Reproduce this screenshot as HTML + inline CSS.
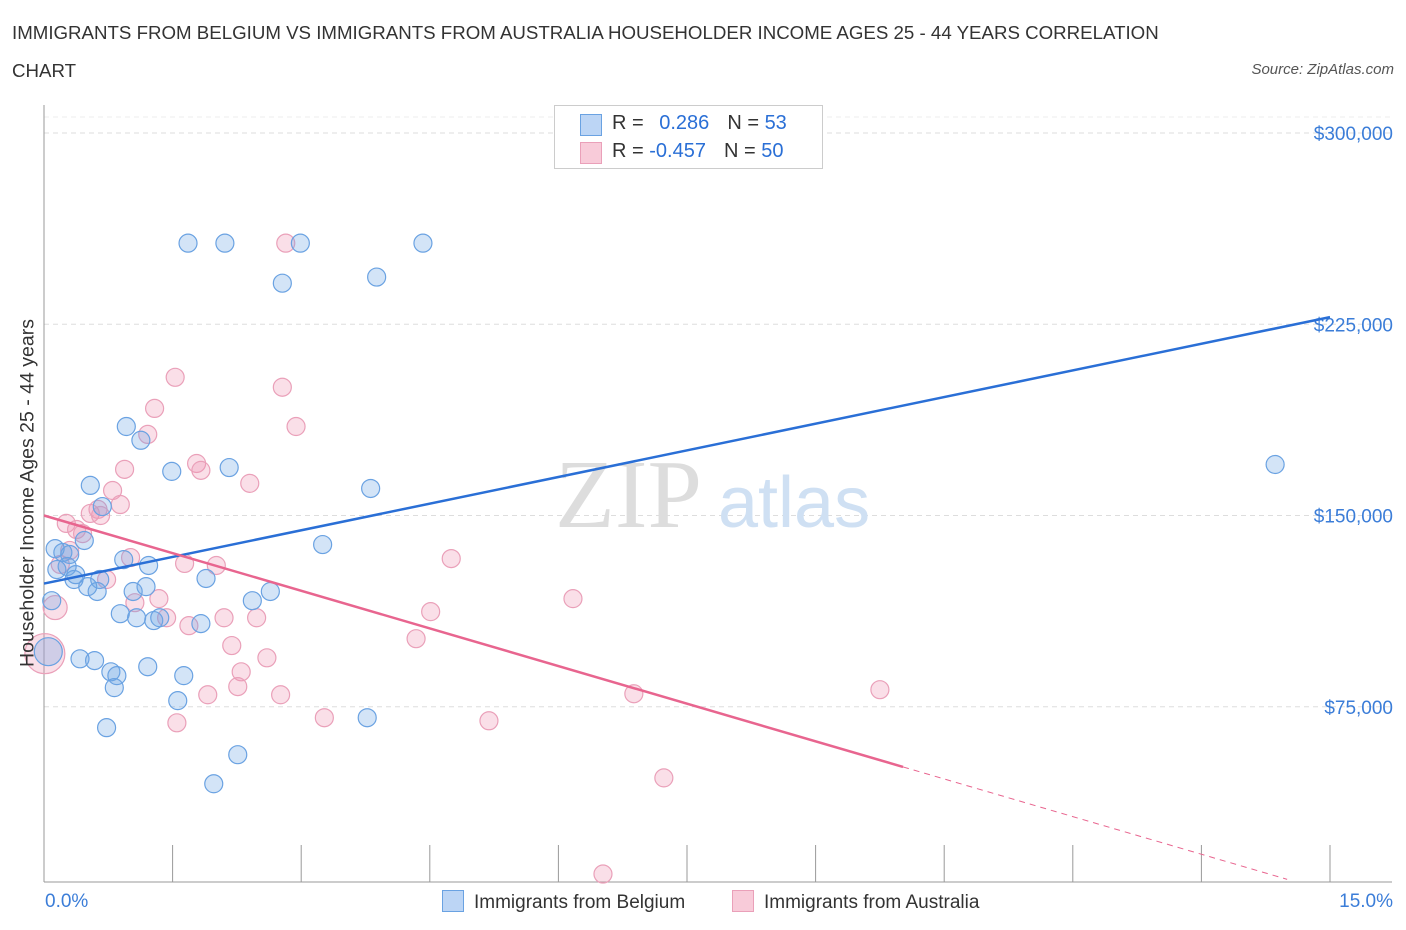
<!DOCTYPE html>
<html><head><meta charset="utf-8"><style>
body{margin:0;background:#fff;font-family:"Liberation Sans",sans-serif}
#w{position:relative;width:1406px;height:930px;overflow:hidden}
.t{position:absolute;white-space:nowrap}
</style></head><body><div id="w">
<div class="t" style="left:12px;top:14px;font-size:18.7px;color:#333;line-height:38px">IMMIGRANTS FROM BELGIUM VS IMMIGRANTS FROM AUSTRALIA HOUSEHOLDER INCOME AGES 25 - 44 YEARS CORRELATION<br>CHART</div>
<div class="t" style="right:12px;top:61px;font-size:15px;font-style:italic;color:#555">Source: ZipAtlas.com</div>
<svg id="s" width="1406" height="930" style="position:absolute;left:0;top:0"></svg>
</div>
<script>
const xMin=0,xMax=15,yMin=0,yMax=300;
const yTicks=[75,150,225,300];
const yTickLabels=["$75,000","$150,000","$225,000","$300,000"];
const blueX=[1.68,2.11,2.99,4.42,2.78,3.88,0.96,1.13,1.49,2.16,3.81,0.54,0.68,0.47,0.13,0.22,0.30,0.27,0.35,0.15,0.65,0.62,0.51,0.37,3.25,0.93,1.22,1.89,0.09,1.19,1.04,2.64,2.43,0.89,1.08,1.28,1.35,1.83,0.42,0.59,1.21,0.78,0.85,1.63,0.82,1.56,3.77,0.73,2.26,1.98,14.36,0.05];
const blueY=[256.8,256.8,256.8,256.8,241.1,243.5,184.9,179.5,167.3,168.8,160.6,161.8,153.5,140.2,137.0,135.5,134.7,130.0,124.9,128.8,124.9,120.2,122.1,126.8,138.6,132.7,130.4,125.3,116.6,122.1,120.2,120.2,116.6,111.5,109.9,108.8,109.9,107.6,93.8,93.1,90.7,88.7,87.2,87.2,82.5,77.4,70.7,66.8,56.2,44.8,170.0,96.6];
const blueR=[9,9,9,9,9,9,9,9,9,9,9,9,9,9,9,9,9,9,9,9,9,9,9,9,9,9,9,9,9,9,9,9,9,9,9,9,9,9,9,9,9,9,9,9,9,9,9,9,9,9,9,14];
const pinkX=[2.82,1.53,2.78,1.29,2.94,1.21,0.94,1.78,1.83,2.40,0.80,0.89,0.54,0.63,0.66,0.26,0.38,0.45,0.30,0.19,4.75,1.01,1.64,2.01,0.73,0.13,6.17,1.06,1.34,4.51,1.43,2.10,2.48,1.69,4.34,2.19,2.60,2.30,9.75,1.91,2.26,2.76,6.88,3.27,1.55,5.19,7.23,6.52,0.01];
const pinkY=[256.8,204.2,200.3,192.0,184.9,181.8,168.1,170.4,167.7,162.6,159.8,154.3,150.8,152.4,150.0,146.9,144.5,142.9,136.3,130.8,133.1,133.5,131.2,130.4,124.9,113.9,117.4,115.8,117.4,112.3,109.9,109.9,109.9,106.8,101.7,99.0,94.2,88.7,81.7,79.7,82.9,79.7,80.1,70.7,68.7,69.5,47.1,9.4,95.8];
const pinkR=[9,9,9,9,9,9,9,9,9,9,9,9,9,9,9,9,9,9,9,9,9,9,9,9,9,12,9,9,9,9,9,9,9,9,9,9,9,9,9,9,9,9,9,9,9,9,9,9,20];
const blueLine=[123.3,227.8];
const pinkLine=[150.0,-9.84];
const X=v=>44+(v-xMin)/(xMax-xMin)*1286;
const Y=v=>898-(v-yMin)/(yMax-yMin)*765;
const s=document.getElementById('s');
function el(t,a){const e=document.createElementNS('http://www.w3.org/2000/svg',t);for(const k in a)e.setAttribute(k,a[k]);s.appendChild(e);return e;}
yTicks.forEach((v,i)=>{
 const g=el('line',{x1:44,x2:1392,y1:Y(v),y2:Y(v),stroke:'#ddd','stroke-dasharray':'5,4'});
 
 
 const t=el('text',{x:1393,y:Y(v)+7,'text-anchor':'end','font-size':19,fill:'#3b7dd8'});
 t.textContent=yTickLabels[i];
 
 
});
const gl=el('line',{x1:44,x2:1392,y1:117,y2:117,stroke:'#eee','stroke-dasharray':'5,4'});
const wm=el('text',{x:555,y:527,'font-size':98,fill:'#ddd','font-family':'Liberation Serif'});wm.textContent='ZIP';


const wm2=el('text',{x:718,y:527,'font-size':72,fill:'#cfe0f3'});wm2.textContent='atlas';


el('line',{x1:44,x2:44,y1:105,y2:882,stroke:'#999'});
el('line',{x1:44,x2:1392,y1:882,y2:882,stroke:'#999'});
for(let i=0;i<=10;i++){const x=X(i*1.5);el('line',{x1:x,x2:x,y1:845,y2:882,stroke:'#999'});}
function dots(xs,ys,rs,fill,stroke,name){xs.forEach((v,i)=>{const c=el('circle',{cx:X(v),cy:Y(ys[i]),r:rs[i],fill:fill,stroke:stroke,'stroke-width':1.2});

});}
dots(pinkX,pinkY,pinkR,'rgba(240,150,180,0.3)','#eaa0b9','point-australia');
dots(blueX,blueY,blueR,'rgba(110,165,230,0.3)','#6aa2e2','point-belgium');
const bl=el('line',{x1:X(0),y1:Y(blueLine[0]),x2:X(15),y2:Y(blueLine[1]),stroke:'#2a6fd6','stroke-width':2.5});


const pe=10.02,pd=14.5;
const pl=el('line',{x1:X(0),y1:Y(pinkLine[0]),x2:X(pe),y2:Y(pinkLine[0]+pinkLine[1]*pe),stroke:'#e8658f','stroke-width':2.5});


const pd2=el('line',{x1:X(pe),y1:Y(pinkLine[0]+pinkLine[1]*pe),x2:X(pd),y2:Y(pinkLine[0]+pinkLine[1]*pd),stroke:'#e8658f','stroke-width':1,'stroke-dasharray':'6,5'});


</script>
<div class="t" style="left:28px;top:493px;font-size:19.5px;color:#333;transform:translate(-50%,-50%) rotate(-90deg);transform-origin:center">Householder Income Ages 25 - 44 years</div>
<div class="t" style="left:45px;top:891px;font-size:19px;color:#3b7dd8">0.0%</div>
<div class="t" style="right:13px;top:891px;font-size:19px;color:#3b7dd8">15.0%</div>
<div class="t" style="left:554px;top:105px;width:267px;height:62px;border:1px solid #ccc;background:#fff;font-size:20px">
 <div style="position:absolute;left:25px;top:8px;width:20px;height:20px;background:#bcd5f5;border:1px solid #6aa2e2"></div>
 <div class="t" style="left:57px;top:6px;color:#333">R = <span style="color:#2a6fd6;margin-left:10px">0.286</span><span style="color:#333;margin-left:18px">N = </span><span style="color:#2a6fd6">53</span></div>
 <div style="position:absolute;left:25px;top:36px;width:20px;height:20px;background:#f8cbd9;border:1px solid #eaa0b9"></div>
 <div class="t" style="left:57px;top:34px;color:#333">R = <span style="color:#2a6fd6">-0.457</span><span style="color:#333;margin-left:18px">N = </span><span style="color:#2a6fd6">50</span></div>
</div>
<div class="t" style="left:442px;top:890px;font-size:19px;color:#333"><span style="display:inline-block;width:20px;height:20px;background:#bcd5f5;border:1px solid #6aa2e2;vertical-align:-4px;margin-right:10px"></span>Immigrants from Belgium</div>
<div class="t" style="left:732px;top:890px;font-size:19px;color:#333"><span style="display:inline-block;width:20px;height:20px;background:#f8cbd9;border:1px solid #eaa0b9;vertical-align:-4px;margin-right:10px"></span>Immigrants from Australia</div>
</body></html>
